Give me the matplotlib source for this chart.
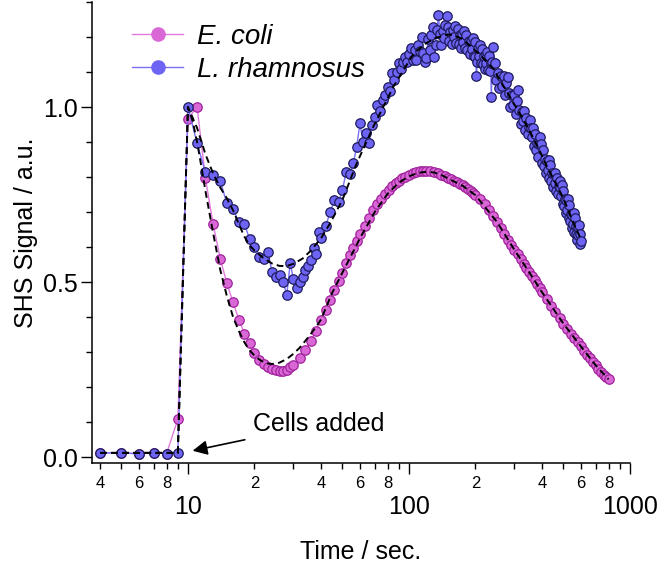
import matplotlib.pyplot as plt
import numpy as np
from matplotlib.ticker import LogLocator, FuncFormatter, MultipleLocator, FixedLocator
from matplotlib.lines import Line2D

plt.rcParams['font.family'] = ['Liberation Sans', 'DejaVu Sans']

# E. coli data (time / s, signal / a.u.)
ecoli_t = [4, 5, 6, 7, 8, 9, 10, 11, 12, 13, 14, 15, 16, 17, 18, 19, 20, 21, 22, 23, 24, 25,
           26, 27, 28, 29, 30, 32, 34, 36, 38, 40, 42, 44, 46, 48, 50, 52, 54, 56, 58, 60,
           63, 66, 69, 72, 75, 78, 81, 84, 87, 90, 93, 96, 100, 104, 108, 112, 116, 120,
           125, 130, 135, 140, 145, 150, 155, 160, 165, 170, 175, 180, 185, 190, 195, 200,
           210, 220, 230, 240, 250, 260, 270, 280, 290, 300, 310, 320, 330, 340, 350, 360,
           370, 380, 390, 400, 420, 440, 460, 480, 500, 520, 540, 560, 580, 600, 620, 640,
           660, 680, 700, 720, 740, 760, 780, 800]
ecoli_y = [0.012, 0.012, 0.010, 0.012, 0.010, 0.108, 0.967, 1.000, 0.796, 0.665, 0.567, 0.496,
           0.442, 0.393, 0.353, 0.325, 0.296, 0.278, 0.266, 0.258, 0.252, 0.249, 0.247, 0.247,
           0.250, 0.256, 0.263, 0.284, 0.307, 0.333, 0.360, 0.392, 0.420, 0.448, 0.476, 0.502,
           0.527, 0.553, 0.576, 0.597, 0.617, 0.636, 0.660, 0.683, 0.705, 0.722, 0.738, 0.752,
           0.764, 0.774, 0.783, 0.790, 0.796, 0.801, 0.806, 0.811, 0.814, 0.816, 0.817, 0.817,
           0.816, 0.814, 0.811, 0.807, 0.802, 0.797, 0.794, 0.789, 0.786, 0.781, 0.777, 0.771,
           0.766, 0.760, 0.755, 0.748, 0.736, 0.722, 0.706, 0.690, 0.672, 0.655, 0.637, 0.621,
           0.606, 0.592, 0.579, 0.565, 0.552, 0.540, 0.528, 0.517, 0.505, 0.494, 0.482, 0.471,
           0.451, 0.432, 0.413, 0.396, 0.381, 0.367, 0.353, 0.340, 0.328, 0.316, 0.304, 0.293,
           0.283, 0.272, 0.262, 0.252, 0.243, 0.235, 0.228, 0.222]

# L. rhamnosus data, in pieces
lrh_t_early = [4, 5, 6, 7, 8, 9, 10, 11, 12, 13, 14, 15, 16, 17, 18, 19, 20, 21, 22, 23, 24,
               25, 26, 27, 28, 29, 30, 31, 32, 33, 34, 35, 36, 37, 38, 39, 40]
lrh_y_early = [0.012, 0.012, 0.009, 0.013, 0.010, 0.012, 1.000, 0.896, 0.813, 0.806, 0.789,
               0.725, 0.708, 0.671, 0.667, 0.623, 0.601, 0.572, 0.566, 0.587, 0.529, 0.515,
               0.520, 0.500, 0.463, 0.553, 0.510, 0.482, 0.501, 0.515, 0.534, 0.545, 0.563,
               0.596, 0.580, 0.644, 0.625]
lrh_t_rise = [42, 44, 46, 48, 50, 52, 54, 56, 58, 60, 62, 64, 66, 68, 70, 72, 74, 76, 78, 80,
              82, 84, 86, 88, 90, 92, 94, 96, 98, 100]
lrh_y_rise = [0.660, 0.700, 0.734, 0.730, 0.763, 0.815, 0.810, 0.839, 0.887, 0.953, 0.900,
              0.925, 0.896, 0.950, 0.972, 1.006, 0.990, 1.020, 1.035, 1.058, 1.045, 1.096,
              1.077, 1.100, 1.125, 1.108, 1.130, 1.144, 1.130, 1.152]
lrh_t_top = [102, 104, 106, 108, 110, 112, 114, 116, 118, 120, 122, 124, 126, 128, 130, 132,
             134, 136, 138, 140, 142, 144, 146, 148, 150, 152, 154, 156, 158, 160, 162, 164,
             166, 168, 170, 172, 174, 176, 178, 180, 182, 184, 186, 188, 190, 192, 194, 196,
             198, 200, 202, 204, 206, 208, 210, 212, 214, 216, 218, 220, 222, 224, 226, 228,
             230, 232, 234, 236, 238, 240]
lrh_y_top = [1.168, 1.133, 1.163, 1.133, 1.178, 1.161, 1.199, 1.155, 1.130, 1.139, 1.193,
             1.162, 1.205, 1.230, 1.144, 1.177, 1.221, 1.263, 1.209, 1.176, 1.218, 1.198,
             1.233, 1.260, 1.229, 1.189, 1.214, 1.180, 1.220, 1.199, 1.232, 1.182, 1.223,
             1.181, 1.206, 1.170, 1.210, 1.187, 1.218, 1.168, 1.207, 1.164, 1.188, 1.151,
             1.190, 1.166, 1.197, 1.147, 1.186, 1.143, 1.090, 1.130, 1.170, 1.145, 1.176,
             1.126, 1.165, 1.123, 1.146, 1.110, 1.148, 1.125, 1.156, 1.106, 1.145, 1.102,
             1.126, 1.028, 1.128, 1.172]
lrh_t_fall = [244, 248, 252, 256, 260, 264, 268, 272, 276, 280, 284, 288, 292, 296, 300, 304,
              308, 312, 316, 320, 324, 328, 332, 336, 340, 344, 348, 352, 356, 360, 364, 368,
              372, 376, 380, 384, 388, 392, 396, 400, 404, 408, 412, 416, 420, 424, 428, 432,
              436, 440, 444, 448, 452, 456, 460, 464, 468, 472, 476, 480, 484, 488, 492, 496,
              500, 504, 508, 512, 516, 520, 524, 528, 532, 536, 540, 544, 548, 552, 556, 560,
              564, 568, 572, 576, 580, 584, 588, 592, 596, 600]
lrh_y_fall = [1.125, 1.078, 1.096, 1.055, 1.089, 1.061, 1.088, 1.034, 1.069, 1.087, 1.041,
              1.001, 1.035, 1.007, 1.035, 0.981, 1.017, 1.049, 0.991, 0.951, 0.986, 0.960,
              0.988, 0.934, 0.970, 0.924, 0.944, 0.963, 0.940, 0.913, 0.941, 0.888, 0.924,
              0.878, 0.898, 0.858, 0.894, 0.915, 0.895, 0.841, 0.877, 0.831, 0.851, 0.811,
              0.847, 0.821, 0.850, 0.797, 0.834, 0.790, 0.811, 0.772, 0.808, 0.783, 0.812,
              0.759, 0.797, 0.752, 0.774, 0.788, 0.772, 0.746, 0.776, 0.723, 0.761, 0.716,
              0.737, 0.697, 0.733, 0.707, 0.736, 0.683, 0.719, 0.674, 0.695, 0.655, 0.692,
              0.667, 0.697, 0.644, 0.682, 0.638, 0.660, 0.621, 0.658, 0.633, 0.663, 0.610,
              0.636, 0.617]
lrh_t = lrh_t_early + lrh_t_rise + lrh_t_top + lrh_t_fall
lrh_y = lrh_y_early + lrh_y_rise + lrh_y_top + lrh_y_fall

# fitted curves
ecoli_fit_t = [4, 9, 10, 10.5, 11, 11.5, 12, 13, 14, 15, 16, 17, 18, 19, 20, 21, 22, 23, 24,
               25, 26, 28, 30, 32, 35, 38, 40, 45, 50, 55, 60, 70, 80, 90, 100, 110, 120,
               130, 140, 150, 175, 200, 250, 300, 350, 400, 500, 600, 700, 800]
ecoli_fit_y = [0.012, 0.012, 1.000, 0.960, 0.900, 0.830, 0.760, 0.640, 0.535, 0.460, 0.400,
               0.360, 0.328, 0.305, 0.290, 0.279, 0.271, 0.267, 0.266, 0.267, 0.270, 0.280,
               0.295, 0.312, 0.342, 0.372, 0.393, 0.470, 0.527, 0.578, 0.625, 0.700, 0.752,
               0.784, 0.802, 0.812, 0.815, 0.813, 0.806, 0.796, 0.775, 0.748, 0.672, 0.592,
               0.528, 0.471, 0.381, 0.316, 0.262, 0.222]
lrh_fit_t = [4, 9, 10, 11, 12, 13, 14, 15, 16, 17, 18, 19, 20, 21, 22, 24, 26, 28, 30, 33,
             36, 40, 44, 50, 58, 69, 85, 105, 120, 133, 150, 160, 175, 195, 215, 240, 265,
             295, 325, 353, 385, 418, 460, 500, 545, 593]
lrh_fit_y = [0.012, 0.012, 1.000, 0.940, 0.865, 0.810, 0.770, 0.739, 0.705, 0.665, 0.630,
             0.605, 0.590, 0.579, 0.568, 0.553, 0.546, 0.546, 0.552, 0.567, 0.590, 0.625,
             0.668, 0.735, 0.839, 0.944, 1.058, 1.153, 1.183, 1.198, 1.207, 1.205, 1.194,
             1.168, 1.142, 1.110, 1.065, 1.015, 0.970, 0.929, 0.883, 0.834, 0.784, 0.739,
             0.680, 0.629]

pink_face, pink_edge, pink_line = '#d968d6', '#a0239c', '#e27ade'
blue_face, blue_edge, blue_line = '#6e64f4', '#1e1c5c', '#7a70f6'

fig = plt.figure(figsize=(6.6, 5.63), dpi=100)
ax = fig.add_axes([0.1394, 0.1776, 0.8151, 0.8188])

ax.plot(ecoli_t, ecoli_y, '-o', color=pink_line, lw=1.0, ms=6.8, mfc=pink_face,
        mec=pink_edge, mew=0.9, zorder=2)
ax.plot(lrh_t, lrh_y, '-o', color=blue_line, lw=1.0, ms=6.8, mfc=blue_face,
        mec=blue_edge, mew=0.9, zorder=3)
ax.plot(ecoli_fit_t, ecoli_fit_y, color='black', lw=1.4, dashes=(3.5, 2.2), zorder=4)
ax.plot(lrh_fit_t, lrh_fit_y, color='black', lw=1.4, dashes=(3.5, 2.2), zorder=4)

ax.set_xscale('log')
ax.set_xlim(3.68, 1000)
ax.set_ylim(-0.017, 1.30)

for s in ['top', 'right']:
    ax.spines[s].set_visible(False)
for s in ['left', 'bottom']:
    ax.spines[s].set_linewidth(1.1)

ax.xaxis.set_major_locator(FixedLocator([10, 100, 1000]))
ax.xaxis.set_major_formatter(FuncFormatter(lambda v, p: '%d' % round(v)))
ax.xaxis.set_minor_locator(LogLocator(base=10, subs=np.arange(2, 10)))


def minor_lab(v, p):
    m = int(round(v / 10 ** np.floor(np.log10(v) + 1e-9)))
    return str(m) if m in (2, 4, 6, 8) else ''


ax.xaxis.set_minor_formatter(FuncFormatter(minor_lab))
ax.yaxis.set_major_locator(MultipleLocator(0.5))
ax.yaxis.set_minor_locator(MultipleLocator(0.1))
ax.yaxis.set_major_formatter(FuncFormatter(lambda v, p: '%.1f' % v))

ax.tick_params(which='major', direction='out', length=8, width=1.0, labelsize=18)
ax.tick_params(which='minor', direction='out', length=4.5, width=1.0)
ax.tick_params(axis='x', which='major', pad=15)
ax.tick_params(axis='x', which='minor', labelsize=12, pad=5)
ax.tick_params(axis='y', which='major', pad=2)

ax.set_xlabel('Time / sec.', fontsize=18, labelpad=15)
ax.set_ylabel('SHS Signal / a.u.', fontsize=18, labelpad=4)

ax.annotate('Cells added', xy=(10.5, 0.018), xytext=(19.7, 0.094), fontsize=18,
            va='center', ha='left',
            arrowprops=dict(arrowstyle='-|>', color='black', lw=1.2,
                            mutation_scale=22, shrinkA=4, shrinkB=0))

handles = [Line2D([], [], color=pink_line, lw=1.0, marker='o', ms=9.5, mfc=pink_face, mec=pink_face),
           Line2D([], [], color=blue_line, lw=1.0, marker='o', ms=9.5, mfc=blue_face, mec=blue_face)]
ax.legend(handles, ['E. coli', 'L. rhamnosus'], loc='upper left', bbox_to_anchor=(0.074, 0.953),
          frameon=False, borderpad=0, borderaxespad=0, handlelength=1.85, handletextpad=0.5,
          labelspacing=0.25, prop={'size': 20, 'style': 'italic'})

plt.savefig('out.png', dpi=100)
